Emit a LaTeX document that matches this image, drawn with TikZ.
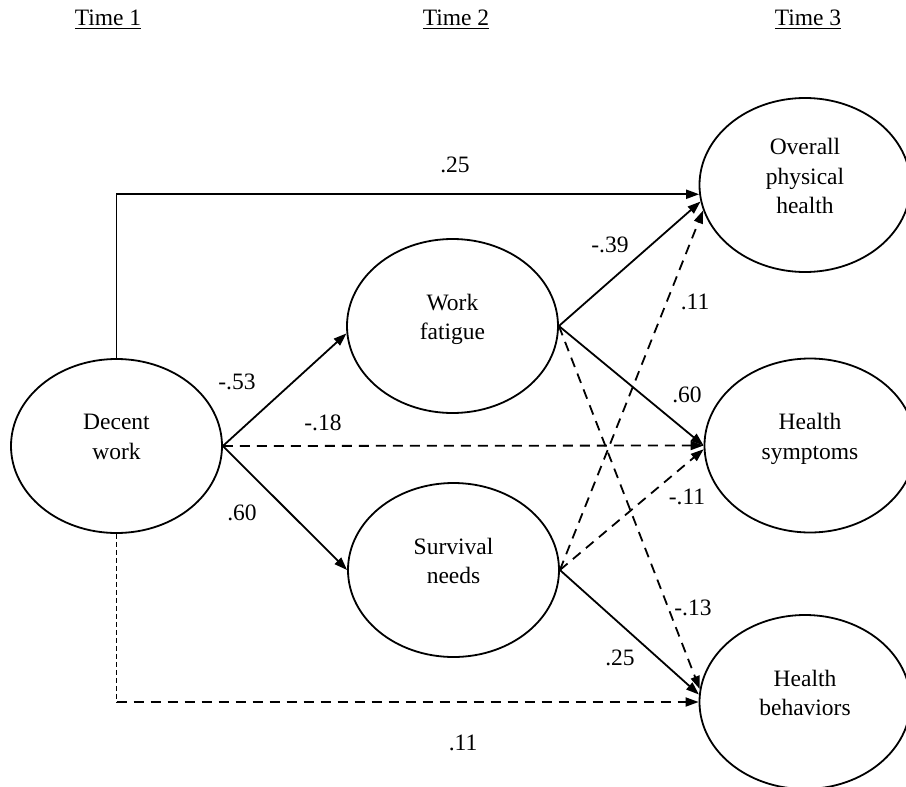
\documentclass[tikz,border=0pt]{standalone}
\usepackage{fontspec}
\setmainfont{Liberation Serif}
\usetikzlibrary{arrows.meta,shapes.geometric}
\begin{document}
\begin{tikzpicture}[x=0.5pt,y=-0.5pt,
  txt/.style={font=\fontsize{11.75}{14.75}\selectfont},
  latent/.style={ellipse,draw,line width=0.9pt,minimum width=105.5pt,minimum height=87pt,
    inner sep=0pt,align=center,text depth=9pt,txt},
  lbl/.style={txt,inner sep=0pt},
  timelbl/.style={txt,inner sep=0pt},
  solidarrow/.style={line width=0.9pt,-{Triangle[length=6.5pt,width=4.5pt]}},
  dasharrow/.style={line width=0.9pt,dash pattern=on 5pt off 3.5pt,-{Triangle[length=6.5pt,width=4.5pt]}},
  thindash/.style={line width=0.5pt,dash pattern=on 2.5pt off 1.5pt}]
\fill[white] (0,0) rectangle (906,787);
\useasboundingbox (0,0) rectangle (906,787);

% time headings
\node[timelbl] (t1) at (108,20) {\underline{Time 1}};
\node[timelbl] (t2) at (456,20) {\underline{Time 2}};
\node[timelbl] (t3) at (808,20) {\underline{Time 3}};

% latent variables
\node[latent] (dw) at (116.5,446) {Decent\\work};
\node[latent] (wf) at (452.5,326) {Work\\fatigue};
\node[latent] (sn) at (453.5,570) {Survival\\needs};
\node[latent] (oph) at (805,185) {Overall\\physical\\health};
\node[latent] (hs) at (810,445.5) {Health\\symptoms};
\node[latent] (hb) at (805,702) {Health\\behaviors};

\coordinate (corner) at (dw.south |- hb.west);

% paths
\draw[solidarrow] (dw.north) |- (oph.185);
\draw[solidarrow] (dw.east) -- (wf.184);
\draw[solidarrow] (dw.east) -- (sn.west);
\draw[dasharrow] (dw.east) -- (hs.west);
\draw[thindash] (dw.south) -- (corner);
\draw[dasharrow] (corner) -- (hb.west);

\draw[solidarrow] (wf.east) -- (oph.189);
\draw[solidarrow] (wf.east) -- (hs.west);
\draw[dasharrow] (wf.east) -- (hb.173);

\draw[dasharrow] (sn.east) -- (oph.194);
\draw[dasharrow] (sn.east) -- (hs.182);
\draw[solidarrow] (sn.east) -- (hb.176);

% coefficients
\node[lbl] (l1) at (455,165) {.25};
\node[lbl] (l2) at (237,382) {-.53};
\node[lbl] (l3) at (323,423) {-.18};
\node[lbl] (l4) at (242,513) {.60};
\node[lbl] (l5) at (463,743) {.11};
\node[lbl] (l6) at (610,245) {-.39};
\node[lbl] (l7) at (695,302) {.11};
\node[lbl] (l8) at (687,395) {.60};
\node[lbl] (l9) at (687,497) {-.11};
\node[lbl] (l10) at (693,608) {-.13};
\node[lbl] (l11) at (620,658) {.25};
\end{tikzpicture}
\end{document}
